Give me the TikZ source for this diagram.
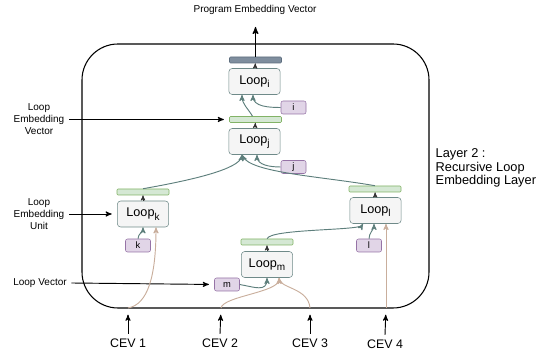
\documentclass[tikz,border=0pt]{standalone}
\usepackage{fontspec}
\setmainfont{Liberation Sans}
\usetikzlibrary{arrows,calc}
\definecolor{boxfill}{HTML}{F5F5F5}
\definecolor{boxline}{HTML}{6F8A89}
\definecolor{barfill}{HTML}{D5E8D4}
\definecolor{barline}{HTML}{82B366}
\definecolor{topfill}{HTML}{7F8E9E}
\definecolor{topline}{HTML}{5D6D7E}
\definecolor{idxfill}{HTML}{E1D5E7}
\definecolor{idxline}{HTML}{9673A6}
\definecolor{linkc}{HTML}{5E7F7C}
\definecolor{feedc}{HTML}{C9AE9C}
\newcommand{\loopsub}[1]{Loop\raisebox{-0.28em}{\fontsize{7.5}{8}\selectfont #1}}

\begin{document}
\begin{tikzpicture}[x=0.75pt,y=0.75pt]
        \tikzset{loopbox/.style = {shape=rectangle,draw=boxline,fill=boxfill,rounded corners=2.5pt,minimum width=38.5pt,minimum height=19.5pt,inner sep=0pt,font=\fontsize{9.5}{10}\selectfont}}
        \tikzset{bar/.style = {shape=rectangle,draw=barline,fill=barfill,rounded corners=0.8pt,minimum width=39pt,minimum height=4.5pt,inner sep=0pt}}
        \tikzset{idx/.style = {shape=rectangle,draw=idxline,fill=idxfill,rounded corners=1.5pt,minimum width=18.75pt,minimum height=9.75pt,inner sep=0pt,font=\fontsize{7}{7}\selectfont}}
        \tikzset{note/.style = {align=center,font=\fontsize{7.5}{9}\selectfont}}
        \tikzset{edge/.style = {->,> = stealth',line width=0.7pt}}
        \tikzset{tiny/.style = {->,> = stealth',line width=0.5pt,draw=black!80}}
        \tikzset{link/.style = {->,> = stealth',line width=0.7pt,draw=linkc}}
        \tikzset{feed/.style = {->,> = stealth',line width=0.7pt,draw=feedc}}
        \useasboundingbox (0,0) rectangle (543,356);
        % layer
        \draw[line width=0.8pt,rounded corners=27pt] (82,48) rectangle (429,312);
        \node[anchor=west,align=left,font=\fontsize{9.6}{10.2}\selectfont] (layer) at (431,188) {Layer 2 :\\Recursive Loop\\Embedding Layer};
        % vertices
        \node[loopbox] (li) at (254.5,274.5) {\loopsub{i}};
        \node[loopbox] (lj) at (254.5,214.5) {\loopsub{j}};
        \node[loopbox] (lk) at (143,142) {\loopsub{k}};
        \node[loopbox] (ll) at (375.5,145.5) {\loopsub{l}};
        \node[loopbox] (lm) at (267,91.5) {\loopsub{m}};
        \node[bar,draw=topline,fill=topfill] (topbar) at (255.5,296) {};
        \node[bar] (jbar) at (255.5,236.5) {};
        \node[bar] (kbar) at (143,164) {};
        \node[bar] (lbar) at (375,167) {};
        \node[bar] (mbar) at (267,114) {};
        \node[idx] (ibox) at (293.5,248.5) {i};
        \node[idx] (jbox) at (293.5,189) {j};
        \node[idx] (kbox) at (138,110.5) {k};
        \node[idx] (lbox) at (369,110.5) {l};
        \node[idx] (mbox) at (227,71.5) {m};
        % labels
        \node[note] (prog) at (255,346) {Program Embedding Vector};
        \coordinate (pev) at (255.5,329);
        \node[note] (lev) at (39,236.5) {Loop\\Embedding\\Vector};
        \node[note] (leu) at (39,142) {Loop\\Embedding\\Unit};
        \node[note] (lvec) at (40,73) {Loop Vector};
        \node[font=\fontsize{9.3}{10}\selectfont] (cev1) at (128,13) {CEV 1};
        \node[font=\fontsize{9.3}{10}\selectfont] (cev2) at (220,13) {CEV 2};
        \node[font=\fontsize{9.3}{10}\selectfont] (cev3) at (310,13) {CEV 3};
        \node[font=\fontsize{9.3}{10}\selectfont] (cev4) at (385,12) {CEV 4};
        \coordinate (b1) at (128,48);
        \coordinate (b2) at (221,48);
        \coordinate (b3) at (310,48);
        \coordinate (b4) at (386,48);
        %edges
        \draw[edge,line width=0.9pt] (topbar) -- (pev);
        \draw[tiny] (li) -- (topbar);
        \draw[tiny] (lj) -- (jbar);
        \draw[tiny] (lk) -- (kbar);
        \draw[tiny] (ll) -- (lbar);
        \draw[tiny] (lm) -- (mbar);
        \draw[edge,shorten >=4pt] (lev.east) -- (jbar.west);
        \draw[edge,shorten >=4pt] (leu.east) -- (lk.west);
        \draw[edge,shorten >=4pt] (lvec.east) -- (mbox.west);
        \draw[edge,shorten >=5pt] (cev1.north) -- (b1);
        \draw[edge,shorten >=5pt] (cev2.north) -- (b2);
        \draw[edge,shorten >=5pt] (cev3.north) -- (b3);
        \draw[edge,shorten >=5pt] (cev4.north) -- (b4);
        \draw[link] ($(jbar.north)+(-3,0)$) to[out=120,in=-90] ($(li.south)+(-12.5,0)$);
        \draw[link] (ibox.west) to[out=180,in=-90] ($(li.south)+(-1.5,0)$);
        \draw[link] (jbox.west) to[out=180,in=-90] ($(lj.south)+(2.5,0)$);
        \draw[link] (kbar.north) to[out=10,in=-100,out distance=37pt,in distance=11pt] ($(lj.south)+(-12.5,0)$);
        \draw[link] (lbar.north) to[out=170,in=-65,out distance=40pt,in distance=15pt] ($(lj.south)+(-12.5,0)$);
        \draw[link] (kbox.north) to[out=90,in=-90] (lk.south);
        \draw[link] (lbox.north) to[out=90,in=-90] ($(ll.south)+(-1.5,0)$);
        \draw[link] (mbar.north) to[out=70,in=-120,out distance=8pt,in distance=6pt] ($(ll.south)+(-12.5,0)$);
        \draw[link] (mbox.east) to[out=-10,in=-90,out distance=11pt,in distance=11pt] (lm.south);
        \draw[feed] (b1) to[out=10,in=-90,out distance=15pt,in distance=37pt] ($(lk.south)+(13,0)$);
        \draw[feed] (b2) to[out=80,in=-90,out distance=9pt,in distance=11pt] ($(lm.south)+(12,0)$);
        \draw[feed] (b3) to[out=95,in=-80,out distance=15pt,in distance=8pt] ($(lm.south)+(12,0)$);
        \draw[feed] (b4) -- ($(ll.south)+(10.5,0)$);
\end{tikzpicture}
\end{document}
